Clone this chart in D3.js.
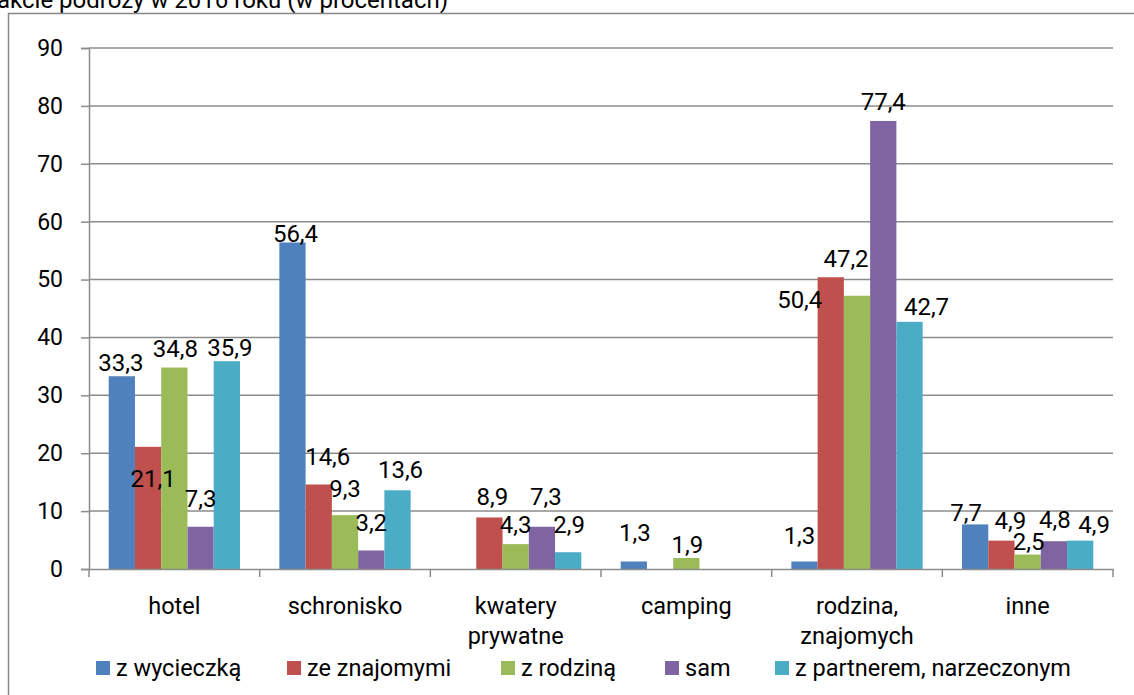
<!DOCTYPE html>
<html>
<head>
<meta charset="utf-8">
<script src="https://cdn.jsdelivr.net/npm/d3@7"></script>
<style>
  html, body { margin: 0; padding: 0; background: #fff; }
  svg { display: block; font-family: Roboto, "Open Sans", sans-serif; }
</style>
</head>
<body>
<svg id="chart" width="1134" height="695"></svg>
<script>
// ---- data ----
const titleText = "akcie podróży w 2016 roku (w procentach)";
const categories = ["hotel", "schronisko", "kwatery\nprywatne", "camping", "rodzina,\nznajomych", "inne"];
const seriesNames = ["z wycieczką", "ze znajomymi", "z rodziną", "sam", "z partnerem, narzeczonym"];
const zWycieczka  = [33.3, 56.4, null, 1.3, 1.3, 7.7];
const zeZnajomymi = [21.1, 14.6, 8.9, null, 50.4, 4.9];
const zRodzina    = [34.8, 9.3, 4.3, 1.9, 47.2, 2.5];
const sam         = [7.3, 3.2, 7.3, null, 77.4, 4.8];
const zPartnerem  = [35.9, 13.6, 2.9, null, 42.7, 4.9];
const yTicks = [0, 10, 20, 30, 40, 50, 60, 70, 80, 90];
const seriesColors = ["#4F81BD", "#C0504D", "#9BBB59", "#8064A2", "#4BACC6"];

// label nudges (layout only): [dx, dy] per series, per category
const labelNudge = [
  [[-1, 0], [3, 4], [0, 0], [1, -15], [-5, -12], [-9, 2]],
  [[5, 45], [9, -14], [3, -7], [0, 0], [-31, 36], [9, -7]],
  [[1, -6], [0, -13], [0, -6], [1, 0], [-11, -24], [1, 0]],
  [[0, -15], [0, -14], [4, -17], [0, 0], [0, -6], [1, -8]],
  [[3, 0], [3, -7], [1, -14], [0, 0], [17, -2], [14, -3]]
];

const allSeries = [zWycieczka, zeZnajomymi, zRodzina, sam, zPartnerem];

// ---- chart ----
const svg = d3.select("#chart");
const fmt = v => String(v).replace(".", ",");

const x = d3.scaleBand().domain(categories).range([89, 1113]).paddingInner(0).paddingOuter(0);
const xs = d3.scaleBand().domain(seriesNames).range([0, x.bandwidth()]).paddingInner(0).paddingOuter(0.75);
const y = d3.scaleLinear().domain([0, 90]).range([569, 48]);

// title (cut at top)
svg.append("text").attr("x", -3).attr("y", 8)
  .attr("font-size", 24).attr("fill", "#000").text(titleText);

// outer frame
svg.append("rect").attr("x", 8.5).attr("y", 13.5).attr("width", 1140).attr("height", 700)
  .attr("fill", "none").attr("stroke", "#868686").attr("stroke-width", 1.5);

// gridlines
svg.append("g").selectAll("line").data(yTicks.filter(d => d > 0)).join("line")
  .attr("x1", 89).attr("x2", 1113)
  .attr("y1", d => y(d)).attr("y2", d => y(d))
  .attr("stroke", "#8c8c8c").attr("stroke-width", 1.5);

// y axis
const yAxis = svg.append("g").attr("transform", "translate(89,0)")
  .call(d3.axisLeft(y).tickValues(yTicks).tickSize(8).tickPadding(18).tickFormat(d3.format("d")));
yAxis.select(".domain").attr("stroke", "#8c8c8c").attr("stroke-width", 1.5);
yAxis.selectAll(".tick line").attr("stroke", "#8c8c8c").attr("stroke-width", 1.5);
yAxis.selectAll(".tick text").attr("font-size", 23).attr("font-family", "Roboto, sans-serif").attr("fill", "#000");

// bars
const points = allSeries.flatMap((vals, si) => vals.map((v, ci) => ({v, ci, si}))).filter(d => d.v != null);
svg.append("g").selectAll("rect").data(points).join("rect")
  .attr("fill", d => seriesColors[d.si])
  .attr("x", d => x(categories[d.ci]) + xs(seriesNames[d.si]))
  .attr("width", xs.bandwidth())
  .attr("y", d => y(d.v))
  .attr("height", d => y(0) - y(d.v));

// x axis
const xAxis = svg.append("g").attr("transform", "translate(0,569)")
  .call(d3.axisBottom(x).tickSize(0).tickPadding(0).tickFormat(""));
xAxis.select(".domain").attr("stroke", "#8c8c8c").attr("stroke-width", 1.5);
// boundary tick marks
const bounds = categories.map(c => x(c)).concat([x.range()[1]]);
svg.append("g").selectAll("line").data(bounds).join("line")
  .attr("x1", d => d).attr("x2", d => d).attr("y1", 569).attr("y2", 577)
  .attr("stroke", "#8c8c8c").attr("stroke-width", 1.5);
// category labels
xAxis.selectAll(".tick").each(function(c) {
  const t = d3.select(this).append("text")
    .attr("fill", "#000").attr("font-size", 23.5).attr("text-anchor", "middle")
    .attr("font-family", "Roboto, sans-serif");
  c.split("\n").forEach((line, i) => {
    t.append("tspan").attr("x", 0).attr("y", 45 + i * 30).text(line);
  });
});

// data labels (on top of all bars)
svg.append("g").selectAll("text").data(points).join("text")
  .attr("x", d => x(categories[d.ci]) + xs(seriesNames[d.si]) + xs.bandwidth() / 2 + labelNudge[d.si][d.ci][0])
  .attr("y", d => y(d.v) - 5 + labelNudge[d.si][d.ci][1])
  .attr("text-anchor", "middle").attr("font-size", 24).attr("fill", "#000")
  .text(d => fmt(d.v));

// legend
const legendX = [96, 287, 501, 665, 775];
const legend = svg.append("g").selectAll("g").data(seriesNames).join("g")
  .attr("transform", (d, i) => `translate(${legendX[i]},0)`);
legend.append("rect").attr("x", 0).attr("y", 661).attr("width", 14).attr("height", 14)
  .attr("fill", (d, i) => seriesColors[i]);
legend.append("text").attr("x", 20).attr("y", 676).attr("font-size", 23.5).attr("fill", "#000")
  .text(d => d);
</script>
</body>
</html>
